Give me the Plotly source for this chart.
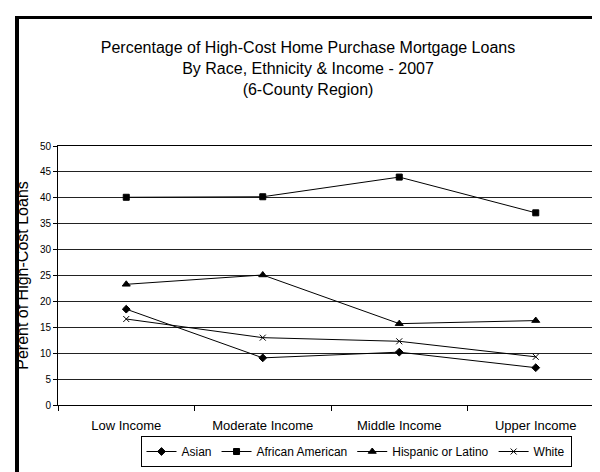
import plotly.graph_objects as go

categories = ["Low Income", "Moderate Income", "Middle Income", "Upper Income"]
asian = [18.5, 9.1, 10.2, 7.2]
african_american = [40.1, 40.2, 44.0, 37.1]
hispanic = [23.3, 25.1, 15.7, 16.3]
white = [16.6, 13.0, 12.3, 9.3]
y_ticks = list(range(0, 51, 5))

W, H = 600, 472
L, R, T, B = 50, 4, 138, 75
pw, ph = W - L - R, H - T - B

def px(x):
    return (x - L) / pw

def py(y):
    return (H - B - y) / ph

series = [
    ("Asian", asian, "diamond", 6),
    ("African American", african_american, "square", 6),
    ("Hispanic or Latino", hispanic, "triangle-up", 7),
    ("White", white, "x-thin-open", 6),
]

fig = go.Figure()
for name, vals, sym, sz in series:
    fig.add_trace(go.Scatter(
        x=categories, y=vals, name=name, mode="lines+markers",
        line=dict(color="black", width=1),
        marker=dict(symbol=sym, size=sz, color="black",
                    line=dict(color="black", width=1)),
    ))

font = "Liberation Sans, Arial, sans-serif"
fig.update_layout(
    width=W, height=H,
    margin=dict(l=L, r=R, t=T, b=B, autoexpand=False),
    paper_bgcolor="white", plot_bgcolor="white",
    font=dict(family=font, color="black"),
    title=dict(
        text="Percentage of High-Cost Home Purchase Mortgage Loans<br>By Race, Ethnicity & Income - 2007<br>(6-County Region)",
        x=0.5, xanchor="center", xref="container", y=1 - 45 / H, yanchor="top", yref="container",
        font=dict(size=16, family=font, color="black"),
    ),
    showlegend=True,
    legend=dict(
        orientation="h", x=px(348), xanchor="center", y=py(428), yanchor="top",
        bordercolor="black", borderwidth=1, bgcolor="white",
        font=dict(size=12, family=font), itemwidth=30, tracegroupgap=0,
    ),
    xaxis=dict(
        type="category", range=[-0.5, 3.5], tickson="boundaries", ticks="outside", ticklen=5,
        tickcolor="black", showline=True, linecolor="black", linewidth=1,
        mirror=True, showgrid=False, tickfont=dict(size=13),
        ticklabelstandoff=8, fixedrange=True,
    ),
    yaxis=dict(
        range=[0, 50], tickvals=y_ticks, ticks="outside", ticklen=4,
        tickcolor="black", showline=True, linecolor="black", linewidth=1,
        mirror=True, showgrid=True, gridcolor="#222", gridwidth=1,
        tickfont=dict(size=10), zeroline=False,
        title=dict(text="Perent of High-Cost Loans", font=dict(size=16), standoff=7),
    ),
    shapes=[
        dict(type="rect", xref="paper", yref="paper", x0=px(7), x1=px(11),
             y0=py(H), y1=py(8), fillcolor="black", line=dict(width=0), layer="below"),
        dict(type="rect", xref="paper", yref="paper", x0=px(7), x1=px(W),
             y0=py(11), y1=py(8), fillcolor="black", line=dict(width=0), layer="below"),
    ],
)

fig.write_html("out.html")
